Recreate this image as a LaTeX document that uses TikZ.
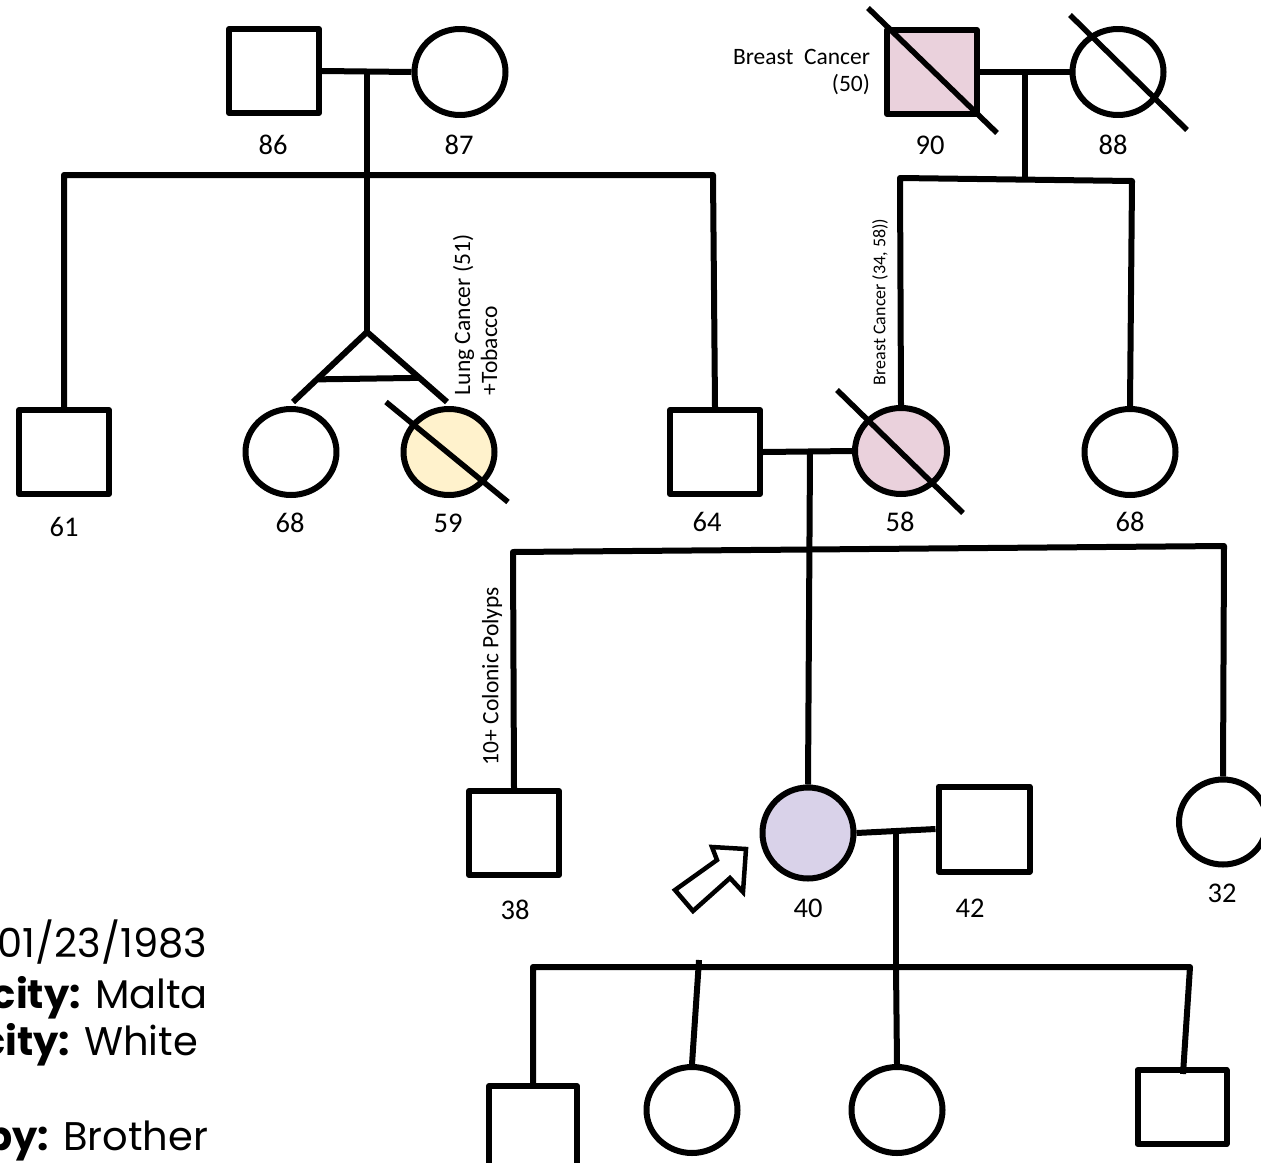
\documentclass[tikz,border=0pt]{standalone}
\usepackage{fontspec}
\setmainfont{Carlito}
\newfontfamily\infofont{Poppins}
\usetikzlibrary{shapes.geometric,calc}
\definecolor{lungfill}{HTML}{FFF2CC}
\definecolor{breastfill}{HTML}{EAD1DC}
\definecolor{probandfill}{HTML}{D9D2E9}

\begin{document}
\begin{tikzpicture}[x=1pt,y=-1pt,
  line width=6pt, line join=round,
  male/.style={draw, rectangle, minimum width=90pt, minimum height=84pt, inner sep=0pt},
  female/.style={draw, ellipse, minimum width=91pt, minimum height=86pt, inner sep=0pt},
  age/.style={font=\fontsize{28.5}{32}\selectfont, inner sep=0pt},
  note/.style={font=\fontsize{23.5}{27}\selectfont, inner sep=0pt},
  info/.style={font=\infofont\fontsize{40}{46}\selectfont, inner sep=0pt, anchor=base east},
  deceased/.style={line width=5.5pt},
]
\useasboundingbox (0,0) rectangle (1261,1162);
\clip (0,0) rectangle (1261,1162);

% ---------- generation I ----------
\node[male]   (p86) at (274,71) {};
\node[female] (p87) at (460,72) {};
\node[male, fill=breastfill] (p90) at (932,72) {};
\node[female] (p88) at (1118,72) {};
\node[age] (a86) at (273,145) {86};
\node[age] (a87) at (459,145) {87};
\node[age] (a90) at (930,145) {90};
\node[age] (a88) at (1113,145) {88};
\node[note, align=right, anchor=east] (n90) at (873,72) {Breast\ \ Cancer\\(50)};

% ---------- generation II ----------
\node[male]   (p61) at (64,452) {};
\node[female] (p68a) at (291,452) {};
\node[female, fill=lungfill] (p59) at (449,452) {};
\node[male]   (p64) at (715,452) {};
\node[female, fill=breastfill, minimum width=92pt] (p58) at (901,451) {};
\node[female] (p68b) at (1130,452) {};
\node[age] (a61) at (64,527) {61};
\node[age] (a68a) at (290,523) {68};
\node[age] (a59) at (448,523) {59};
\node[age] (a64) at (707,522) {64};
\node[age] (a58) at (900,522) {58};
\node[age] (a68b) at (1130,522) {68};
\node[note, rotate=90, align=left, anchor=west] (n59) at (475,398) {Lung Cancer (51)\\+Tobacco};
\node[font=\fontsize{18}{22}\selectfont, inner sep=0pt, rotate=90, anchor=west] (n58) at (880,388) {Breast Cancer (34, 58))};

% ---------- generation III ----------
\node[male]   (p38) at (514,833) {};
\node[female, fill=probandfill, minimum height=91pt] (p40) at (808,833) {};
\node[male, minimum width=91pt, minimum height=85pt] (p42) at (984,829) {};
\node[female, minimum width=88pt, minimum height=85pt] (p32) at (1223,822) {};
\node[age] (a38) at (515,910) {38};
\node[age] (a40) at (808,908) {40};
\node[age] (a42) at (970,908) {42};
\node[age] (a32) at (1222,893) {32};
\node[note, rotate=90, anchor=west] (n38) at (492,768) {10+ Colonic Polyps};

% ---------- generation IV ----------
\node[male, minimum width=88pt] (c1) at (533,1128) {};
\node[female] (c2) at (692,1110) {};
\node[female] (c3) at (897,1110) {};
\node[male, minimum width=89pt, minimum height=74pt] (c4) at (1182,1107) {};

% ---------- junction points ----------
\coordinate (m1) at (367,71);
\coordinate (s1) at (367,175);
\coordinate (s1l) at (64,175);
\coordinate (s1r) at (713,175);
\coordinate (tw) at (367,332);
\coordinate (m2) at (1025,71);
\coordinate (s2l) at (900,178);
\coordinate (s2r) at (1132,181);
\coordinate (s2) at (1025,180);
\coordinate (m3) at (810,452);
\coordinate (s3l) at (513,552);
\coordinate (s3r) at (1224,546);
\coordinate (m4) at (896,833);
\coordinate (s4) at (896,967);
\coordinate (s4l) at (533,967);
\coordinate (s4r) at (1190,967);
\coordinate (c2top) at (699,960);

% ---------- couple and descent lines ----------
\draw (p86.east) -- (p87.west);
\draw (m1) -- (s1) -- (tw);
\draw (p61.north) -- (s1l) -- (s1r) -- (p64.north);
\draw (tw) -- ($(p68a.north)+(2,-4)$);
\draw (tw) -- ($(p59.north)+(-2,-4)$);
\draw ($(tw)!0.64!(p68a.north)$) -- ($(tw)!0.62!(p59.north)$);

\draw (p90.east) -- (p88.west);
\draw (m2) -- (s2);
\draw (p58.north) -- (s2l) -- (s2r) -- (p68b.north);

\draw (p64.east) -- (p58.west);
\draw (m3) -- (p40.north);
\draw (p38.north) -- (s3l) -- (s3r) -- (p32.north);

\draw (p40.east) -- (p42.west);
\draw (m4) -- (s4);
\draw ($(c1.north)+(0,4)$) -- (s4l) -- (s4r) -- ($(c4.north)+(1,7)$);
\draw (c2top) -- (c2.north);
\draw (s4) -- (c3.north);

% ---------- deceased marks ----------
\draw[deceased] ($(p90.center)+(-64,-64)$) -- ($(p90.center)+(65,61)$);
\draw[deceased] ($(p88.center)+(-48,-57)$) -- ($(p88.center)+(69,58)$);
\draw[deceased] ($(p59.center)+(-63,-50)$) -- ($(p59.center)+(59,50)$);
\draw[deceased] ($(p58.center)+(-64,-61)$) -- ($(p58.center)+(62,62)$);

% ---------- proband arrow ----------
\draw[line width=4.5pt, fill=white, line join=miter]
  (746,849) -- (743,892) -- (730,878) -- (693,911) -- (675,890) -- (717,860) -- (712,847) -- cycle;

% ---------- patient details ----------
\node[info] (i1) at (210,957) {01/23/1983};
\node[info] (i2) at (211,1008) {\textbf{city:} Malta};
\node[info] (i3) at (201,1055) {\textbf{city:} White};
\node[info] (i4) at (211,1150) {\textbf{py:} Brother};
\end{tikzpicture}
\end{document}
